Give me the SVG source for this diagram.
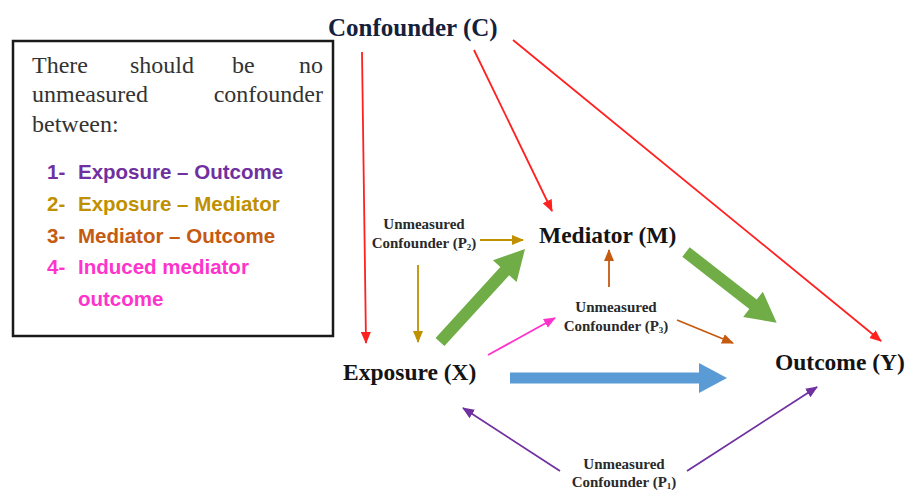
<svg xmlns="http://www.w3.org/2000/svg" width="909" height="490" viewBox="0 0 909 490">
<style>
.body{font-family:"Liberation Serif","Times New Roman",serif;font-size:24px;fill:#333333}
.item{font-family:"Liberation Sans",Arial,sans-serif;font-size:20.5px;font-weight:bold}
.node{font-family:"Liberation Serif","Times New Roman",serif;font-size:23.5px;font-weight:bold;fill:#141414}
.small{font-family:"Liberation Serif","Times New Roman",serif;font-size:15px;font-weight:bold;fill:#2a2a2a;text-anchor:middle}
.thin{fill:none;stroke-width:1.8}
</style>
<defs>
<marker id="mRed" markerUnits="userSpaceOnUse" markerWidth="13" markerHeight="11" refX="11" refY="5" orient="auto"><path d="M0,0 L12,5 L0,10 z" fill="#ff2020"/></marker>
<marker id="mGold" markerUnits="userSpaceOnUse" markerWidth="13" markerHeight="11" refX="11" refY="5" orient="auto"><path d="M0,0 L12,5 L0,10 z" fill="#bf9000"/></marker>
<marker id="mOrange" markerUnits="userSpaceOnUse" markerWidth="13" markerHeight="11" refX="11" refY="5" orient="auto"><path d="M0,0 L12,5 L0,10 z" fill="#c55a11"/></marker>
<marker id="mPink" markerUnits="userSpaceOnUse" markerWidth="13" markerHeight="11" refX="11" refY="5" orient="auto"><path d="M0,0 L12,5 L0,10 z" fill="#ff33cc"/></marker>
<marker id="mPurple" markerUnits="userSpaceOnUse" markerWidth="13" markerHeight="11" refX="11" refY="5" orient="auto"><path d="M0,0 L12,5 L0,10 z" fill="#7030a0"/></marker>
</defs>
<rect width="909" height="490" fill="#ffffff"/>

<g id="legend">
<rect x="13" y="41" width="320" height="295" fill="#ffffff" stroke="#1a1a1a" stroke-width="2.5"/>
<text class="body" x="32" y="73">There</text>
<text class="body" x="130" y="73">should</text>
<text class="body" x="232" y="73">be</text>
<text class="body" x="323" y="73" text-anchor="end">no</text>
<text class="body" x="32" y="102">unmeasured</text>
<text class="body" x="323" y="102" text-anchor="end">confounder</text>
<text class="body" x="32" y="132">between:</text>
<g fill="#7030a0"><text class="item" x="47" y="179">1-</text><text class="item" x="78" y="179">Exposure – Outcome</text></g>
<g fill="#bf9000"><text class="item" x="47" y="211">2-</text><text class="item" x="78" y="211">Exposure – Mediator</text></g>
<g fill="#c55a11"><text class="item" x="47" y="243">3-</text><text class="item" x="78" y="243">Mediator – Outcome</text></g>
<g fill="#ff33cc"><text class="item" x="47" y="274">4-</text><text class="item" x="78" y="274">Induced mediator</text><text class="item" x="78" y="306">outcome</text></g>
</g>

<g id="confounder-c"><text class="node" x="328" y="36" style="font-size:25px;fill:#14213d">Confounder (C)</text></g>
<g id="mediator-m"><text class="node" x="539" y="243">Mediator (M)</text></g>
<g id="exposure-x"><text class="node" x="343" y="380">Exposure (X)</text></g>
<g id="outcome-y"><text class="node" x="775" y="370">Outcome (Y)</text></g>
<g id="p2"><text class="small" x="424" y="229">Unmeasured</text><text class="small" x="424" y="248">Confounder (P<tspan font-size="9" dy="2">2</tspan><tspan dy="-2">)</tspan></text></g>
<g id="p3"><text class="small" x="616" y="312">Unmeasured</text><text class="small" x="616" y="331">Confounder (P<tspan font-size="9" dy="2">3</tspan><tspan dy="-2">)</tspan></text></g>
<g id="p1"><text class="small" x="624" y="469">Unmeasured</text><text class="small" x="624" y="487">Confounder (P<tspan font-size="9" dy="1.5">1</tspan><tspan dy="-1.5">)</tspan></text></g>

<g id="connectors">
<line class="thin" x1="362" y1="52" x2="366" y2="343" stroke="#ff2020" marker-end="url(#mRed)"/>
<line class="thin" x1="474" y1="50" x2="552" y2="211" stroke="#ff2020" marker-end="url(#mRed)"/>
<line class="thin" x1="513" y1="40" x2="881" y2="341" stroke="#ff2020" marker-end="url(#mRed)"/>
<line class="thin" x1="480" y1="240" x2="523" y2="240" stroke="#bf9000" stroke-width="2" marker-end="url(#mGold)"/>
<line class="thin" x1="418" y1="265" x2="418" y2="342" stroke="#bf9000" stroke-width="2" marker-end="url(#mGold)"/>
<line class="thin" x1="609" y1="287" x2="609" y2="250" stroke="#c55a11" stroke-width="2" marker-end="url(#mOrange)"/>
<line class="thin" x1="677" y1="320" x2="733" y2="343" stroke="#c55a11" stroke-width="2" marker-end="url(#mOrange)"/>
<line class="thin" x1="488" y1="355" x2="555" y2="318" stroke="#ff33cc" marker-end="url(#mPink)"/>
<line class="thin" x1="560" y1="471" x2="463" y2="408" stroke="#7030a0" stroke-width="2" marker-end="url(#mPurple)"/>
<line class="thin" x1="687" y1="471" x2="817" y2="387" stroke="#7030a0" stroke-width="2" marker-end="url(#mPurple)"/>
<polygon transform="translate(440,342) rotate(-47.57)" points="0,-6 96,-6 96,-16 126,0 96,16 96,6 0,6" fill="#70ad47"/>
<polygon transform="translate(686,252) rotate(37.96)" points="0,-6 85,-6 85,-16 115,0 85,16 85,6 0,6" fill="#70ad47"/>
<polygon transform="translate(510,378)" points="0,-5.5 189,-5.5 189,-15 217,0 189,15 189,5.5 0,5.5" fill="#5b9bd5"/>
</g>
</svg>
